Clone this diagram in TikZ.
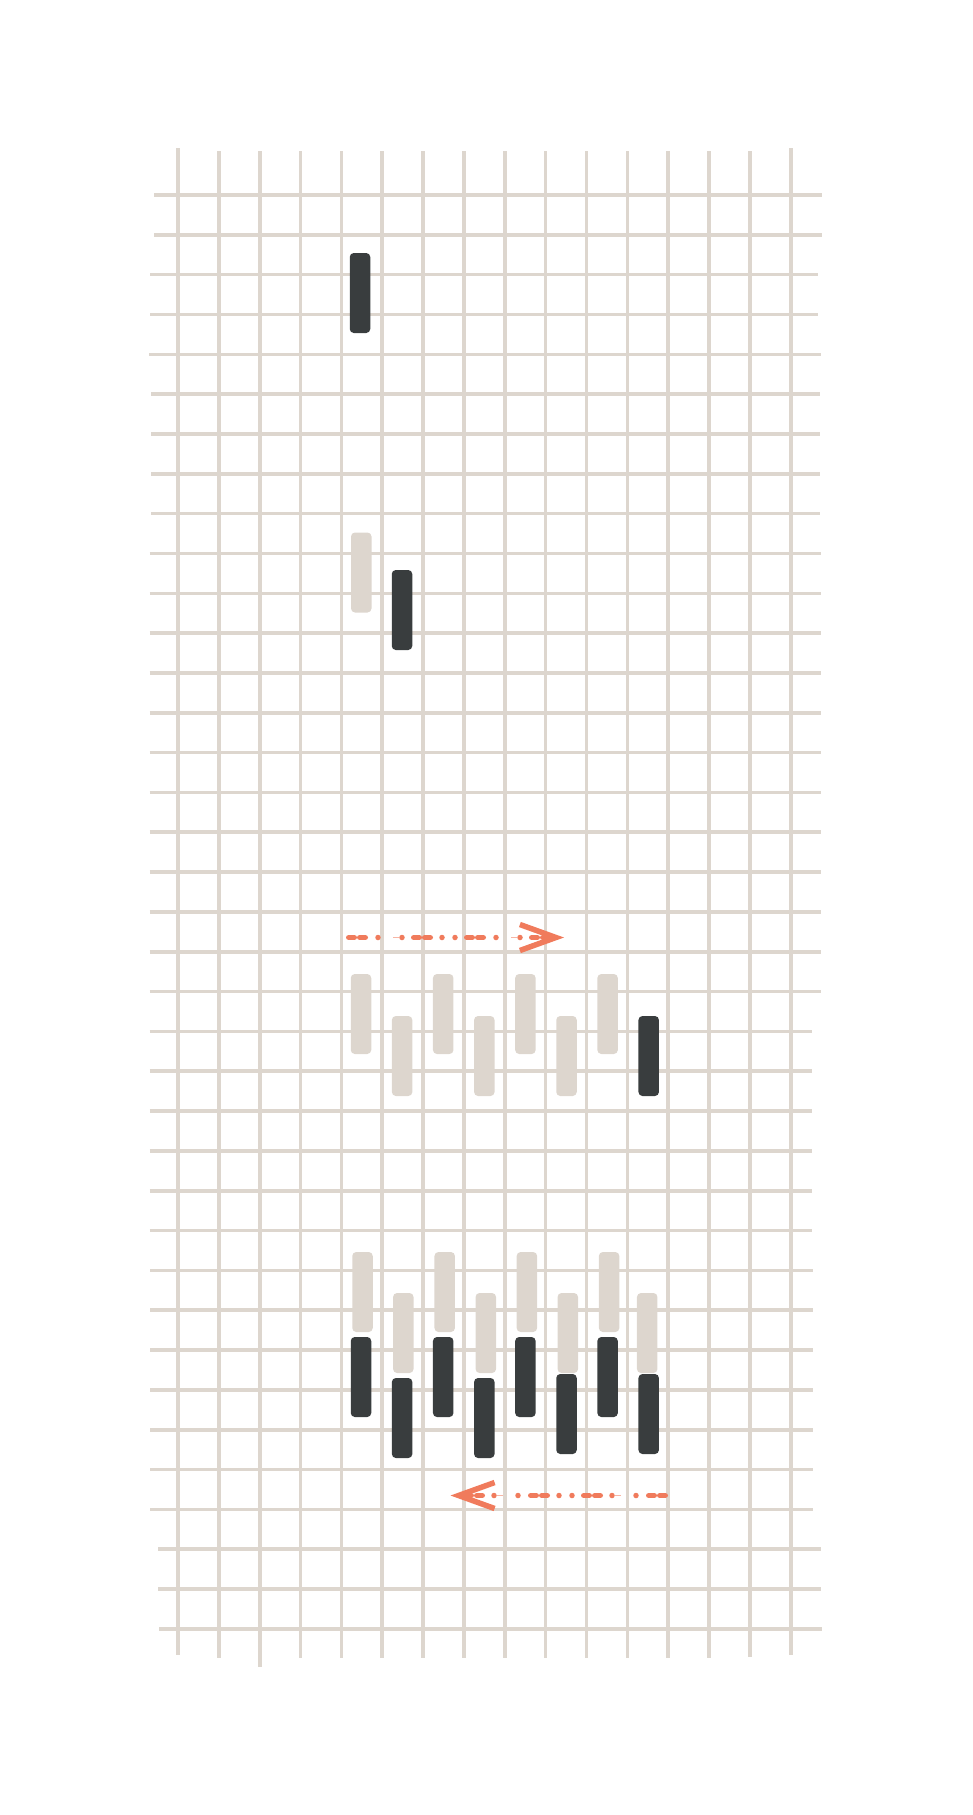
\documentclass[tikz,border=0pt]{standalone}
\usepackage{tikz}
\usetikzlibrary{arrows.meta}
\definecolor{grille}{RGB}{221,214,206}
\definecolor{barre}{RGB}{57,61,62}
\definecolor{fleche}{RGB}{240,123,92}
\tikzset{
	trait/.style={draw=grille,line width=3.6pt},
	sombre/.style={fill=barre,rounded corners=4pt},
	claire/.style={fill=grille,rounded corners=4pt},
	pointille/.style={draw=fleche,line width=5.5pt,line cap=round,
		dash pattern=on 5.5pt off 5.5pt on 5.5pt off 12.75pt on 0pt off 24pt on 0pt off 11.75pt
		on 5.5pt off 5.5pt on 5.5pt off 11.75pt on 0pt off 13pt on 0pt off 11.75pt},
	filet/.style={draw=fleche!55,line width=1pt,dash pattern=on 6pt off 112pt,dash phase=73.75pt},
	pointe/.style={-{Straight Barb[length=36pt,width=26pt,line width=5.5pt,sharp]}}
}
% une barre : style, centre en x, haut en y
\newcommand{\barre}[3]{\path[#1] ({#2-10.25},{#3}) rectangle ({#2+10.25},{#3+80});}

\begin{document}
\begin{tikzpicture}[x=1pt,y=-1pt]
				\useasboundingbox (0,0) rectangle (972,1815);
				\def\colA{361}; % centre de la premiere colonne
				\def\pas{41.1};
				
				%Lignes horizontales
				\foreach \a/\b/\g/\d in {0/1/154/822, 2/3/150/818, 4/4/149/821, 5/8/151/819.5,
					9/20/149.5/821, 21/26/149.5/812, 27/33/150/813, 34/35/158/820.7, 36/36/159/822}{
					\foreach \k in {\a,...,\b}{
						\draw[trait] (\g,195+39.83*\k) -- (\d,195+39.83*\k);
					}
				}
				
				%Lignes verticales
				\foreach \j/\h/\f in {0/148/1655, 1/151/1658, 2/151/1667, 3/151/1658, 4/151/1658,
					5/151/1658, 6/151/1658, 7/151/1658, 8/151/1658, 9/151/1658, 10/151/1658,
					11/151/1658, 12/151/1658, 13/151/1658, 14/151/1657, 15/148/1655}{
					\draw[trait] (178+40.85*\j,\h) -- (178+40.85*\j,\f);
				}
				
				%Premier etat
				\barre{sombre}{360}{253}
				
				%Deuxieme etat
				\barre{claire}{361.25}{532.5}
				\barre{sombre}{402}{570}
				
				%Troisieme etat
				\foreach \c in {1,3,5,7}{
					\barre{claire}{\colA+\pas*(\c-1)}{974}
				}
				\foreach \c in {2,4,6}{
					\barre{claire}{\colA+\pas*(\c-1)}{1016}
				}
				\barre{sombre}{\colA+\pas*7}{1016}
				
				%Quatrieme etat
				\foreach \c/\dx in {1/1.5,3/1.5,5/1.5,7/1.5,2/1.2,4/1.5,6/1.3,8/-1.5}{
					\pgfmathsetmacro{\haut}{isodd(\c) ? 1252 : 1293}
					\barre{claire}{\colA+\pas*(\c-1)+\dx}{\haut}
				}
				\foreach \c/\haut in {1/1337,3/1337,5/1337,7/1337,2/1378,4/1378,6/1374,8/1374}{
					\barre{sombre}{\colA+\pas*(\c-1)}{\haut}
				}
				
				%Fleches
				\coordinate (depart1) at (348.75,937.5);
				\coordinate (arrivee1) at (564,937.5);
				\coordinate (depart2) at (665.25,1495.5);
				\coordinate (arrivee2) at (450.5,1495.5);
				
				\draw[filet] (depart1) -- (arrivee1);
				\draw[pointille,pointe] (depart1) -- (arrivee1);
				\draw[filet] (depart2) -- (arrivee2);
				\draw[pointille,pointe] (depart2) -- (arrivee2);
				
\end{tikzpicture}
\end{document}
